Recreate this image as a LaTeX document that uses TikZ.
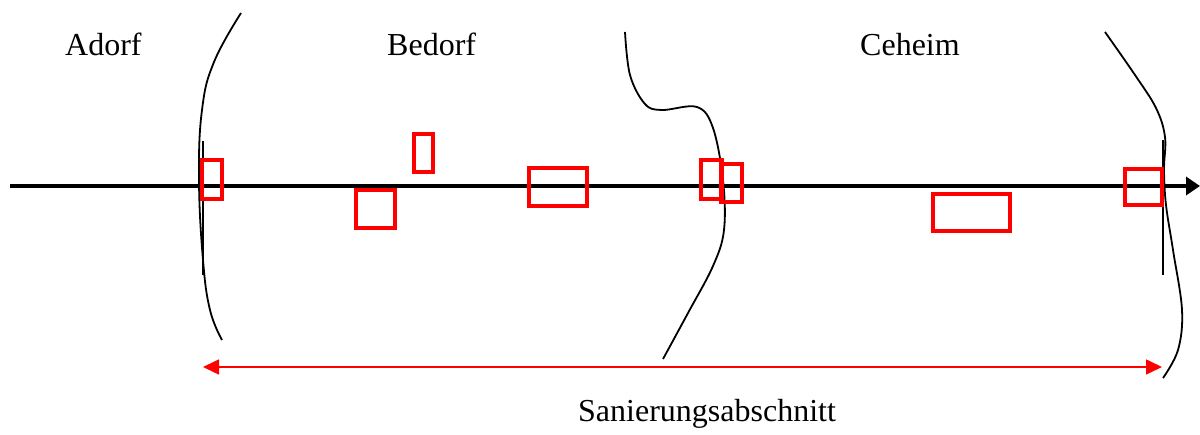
\documentclass[tikz,border=0pt]{standalone}
\usepackage{fontspec}
\setmainfont{Liberation Serif}
\usetikzlibrary{arrows.meta}
\begin{document}
\begin{tikzpicture}[x=1pt,y=-1pt,
  lbl/.style={anchor=base west,inner sep=0pt,font=\fontsize{32}{38}\selectfont},
  bound/.style={draw=black,line width=1.8pt},
  rbox/.style={draw=red,line width=3.6pt},
  rboxb/.style={draw=red,line width=4.5pt}]
\useasboundingbox (0,0) rectangle (1200,435);
% texts
\node[lbl] (a) at (65,56) {Adorf};
\node[lbl] (b) at (387,56) {Bedorf};
\node[lbl] (c) at (860,56) {Ceheim};
\node[lbl] (s) at (578,422) {Sanierungsabschnitt};
% axis
\coordinate (ax0) at (10,186);
\coordinate (ax1) at (1200,186);
\draw[line width=4pt,-{Triangle[length=14pt,width=18pt]}] (ax0) -- (ax1);
% left boundary
\draw[bound] plot[smooth,tension=0.7] coordinates {(241,13) (214,62) (202,110) (199,180) (203,260) (210,310) (222,340)};
\coordinate (lv0) at (203,141); \coordinate (lv1) at (203,275);
\draw[bound] (lv0) -- (lv1);
% middle boundary
\draw[bound] plot[smooth,tension=0.6] coordinates {(625,32) (630,75) (645,104) (662,110) (697,107) (713,128) (723,180) (724,230) (713,266) (688,313) (663,359)};
% right boundary
\draw[bound] plot[smooth,tension=0.6] coordinates {(1105,32) (1135,75) (1156,108) (1165,137) (1164,170) (1166,205) (1173,250) (1182,310) (1178,350) (1163,378)};
\coordinate (rv0) at (1163,140); \coordinate (rv1) at (1163,275);
\draw[bound] (rv0) -- (rv1);
% red boxes
\draw[rbox] (202,160) rectangle (222,199);
\draw[rbox] (356,190) rectangle (395,228);
\draw[rbox] (414,134) rectangle (433,172);
\draw[rboxb] (529,168) rectangle (587,206);
\draw[rbox] (701,160) rectangle (722,199);
\draw[rbox] (721,164) rectangle (742,202);
\draw[rbox] (933,194) rectangle (1010,231);
\draw[rbox] (1125,169) rectangle (1162,205);
% red double arrow
\coordinate (ra0) at (203,367);
\coordinate (ra1) at (1162,367);
\draw[red,line width=1.6pt,{Triangle[length=16pt,width=15pt]}-{Triangle[length=16pt,width=15pt]}] (ra0) -- (ra1);
\end{tikzpicture}
\end{document}
